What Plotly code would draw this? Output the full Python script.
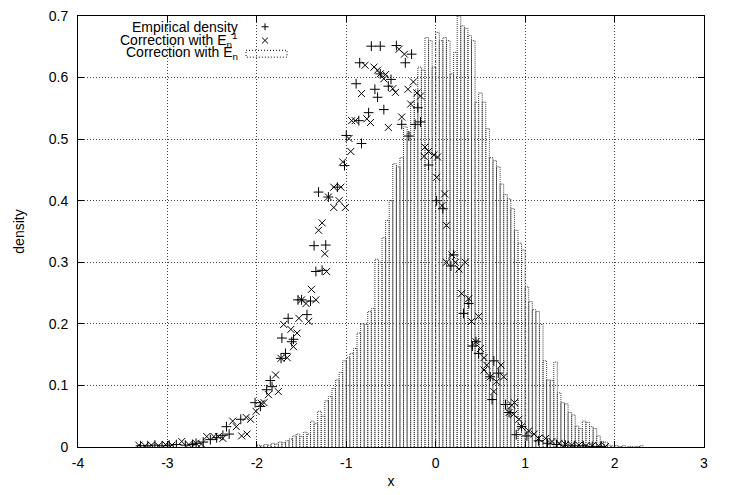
import plotly.graph_objects as go

# ---------------- data ----------------
emp_x = [-3.30, -3.22, -3.14, -3.06, -2.98, -2.90, -2.80, -2.72, -2.68, -2.60, -2.52, -2.45, -2.38,
         -2.34, -2.31, -2.18, -2.02, -1.96, -1.89, -1.85, -1.83, -1.73, -1.68, -1.72, -1.65, -1.61,
         -1.59, -1.54, -1.50, -1.44, -1.40, -1.34, -1.27, -1.36, -1.23, -1.31, -1.20, -1.10, -1.02,
         -1.00, -0.89, -0.85, -0.83, -0.86, -0.75, -0.72, -0.62, -0.68, -0.65, -0.62, -0.58, -0.53,
         -0.50, -0.44, -0.38, -0.34, -0.27, -0.30, -0.23, -0.20, -0.17, -0.08, 0.01, 0.08, 0.17,
         0.20, 0.31, 0.37, 0.41, 0.45, 0.48, 0.61, 0.63, 0.70, 0.65, 0.78, 0.82, 0.96, 0.90, 1.02,
         1.15, 1.25, 1.35, 1.45, 1.55, 1.65, 1.75, 1.85]
emp_y = [0.002, 0.002, 0.003, 0.002, 0.003, 0.004, 0.003, 0.004, 0.006, 0.008, 0.012, 0.015, 0.019,
         0.033, 0.021, 0.045, 0.072, 0.066, 0.093, 0.108, 0.098, 0.144, 0.152, 0.177, 0.209, 0.171,
         0.175, 0.239, 0.239, 0.215, 0.237, 0.285, 0.287, 0.327, 0.328, 0.414, 0.406, 0.422, 0.457,
         0.506, 0.590, 0.624, 0.493, 0.530, 0.543, 0.651, 0.651, 0.581, 0.568, 0.606, 0.548, 0.586,
         0.597, 0.652, 0.524, 0.624, 0.638, 0.505, 0.524, 0.551, 0.528, 0.458, 0.400, 0.387, 0.294,
         0.312, 0.217, 0.233, 0.164, 0.171, 0.152, 0.114, 0.077, 0.120, 0.140, 0.069, 0.056, 0.033,
         0.020, 0.018, 0.010, 0.006, 0.004, 0.003, 0.002, 0.002, 0.001, 0.001]

cor_x = [-3.32, -3.25, -3.18, -3.10, -3.02, -2.95, -2.84, -2.76, -2.68, -2.62, -2.56, -2.48, -2.43,
         -2.38, -2.27, -2.23, -2.17, -2.11, -2.12, -2.07, -2.01, -1.95, -1.92, -1.87, -1.79, -1.76,
         -1.73, -1.66, -1.59, -1.70, -1.62, -1.55, -1.53, -1.50, -1.45, -1.42, -1.39, -1.34, -1.22,
         -1.24, -1.31, -1.27, -1.14, -1.01, -1.14, -1.06, -1.20, -1.08, -1.04, -0.97, -0.95, -0.94,
         -0.90, -0.83, -0.79, -0.77, -0.73, -0.69, -0.65, -0.62, -0.58, -0.56, -0.53, -0.48, -0.45,
         -0.41, -0.35, -0.38, -0.31, -0.28, -0.25, -0.21, -0.17, -0.13, -0.12, -0.08, -0.02, 0.02,
         0.01, 0.07, 0.10, 0.12, 0.12, 0.18, 0.22, 0.26, 0.33, 0.29, 0.37, 0.40, 0.48, 0.45, 0.50,
         0.54, 0.57, 0.54, 0.73, 0.61, 0.76, 0.68, 0.65, 0.88, 0.85, 0.82, 0.87, 0.93, 0.96, 1.04,
         1.10, 1.15, 1.23, 1.30, 1.38, 1.45, 1.52, 1.60, 1.68, 1.75, 1.82, 1.90]
cor_y = [0.003, 0.002, 0.003, 0.002, 0.004, 0.003, 0.009, 0.004, 0.006, 0.005, 0.017, 0.017, 0.017,
         0.014, 0.042, 0.033, 0.018, 0.021, 0.048, 0.045, 0.058, 0.071, 0.072, 0.085, 0.117, 0.090,
         0.144, 0.145, 0.163, 0.199, 0.191, 0.185, 0.209, 0.239, 0.233, 0.204, 0.256, 0.239, 0.285,
         0.314, 0.352, 0.364, 0.389, 0.389, 0.422, 0.422, 0.406, 0.400, 0.463, 0.501, 0.480, 0.530,
         0.530, 0.574, 0.620, 0.533, 0.527, 0.617, 0.612, 0.606, 0.598, 0.605, 0.519, 0.582, 0.576,
         0.646, 0.638, 0.536, 0.581, 0.557, 0.593, 0.575, 0.570, 0.472, 0.487, 0.480, 0.474, 0.471,
         0.438, 0.392, 0.411, 0.360, 0.300, 0.312, 0.300, 0.289, 0.300, 0.249, 0.241, 0.204, 0.212,
         0.171, 0.160, 0.145, 0.133, 0.125, 0.133, 0.114, 0.114, 0.106, 0.090, 0.072, 0.068, 0.056,
         0.053, 0.045, 0.033, 0.026, 0.021, 0.014, 0.014, 0.009, 0.006, 0.004, 0.003, 0.003, 0.002,
         0.002, 0.002, 0.001]

hist_x = [-1.98, -1.94, -1.90, -1.86, -1.82, -1.78, -1.74, -1.70, -1.66, -1.62, -1.58, -1.54, -1.50,
          -1.46, -1.42, -1.38, -1.34, -1.30, -1.26, -1.22, -1.18, -1.14, -1.10, -1.06, -1.02, -0.98,
          -0.94, -0.90, -0.86, -0.82, -0.78, -0.74, -0.70, -0.66, -0.62, -0.58, -0.54, -0.50, -0.46,
          -0.42, -0.38, -0.34, -0.30, -0.26, -0.22, -0.18, -0.14, -0.10, -0.06, -0.02, 0.02, 0.06,
          0.10, 0.14, 0.18, 0.22, 0.26, 0.30, 0.34, 0.38, 0.42, 0.46, 0.50, 0.54, 0.58, 0.62, 0.66,
          0.70, 0.74, 0.78, 0.82, 0.86, 0.90, 0.94, 0.98, 1.02, 1.06, 1.10, 1.14, 1.18, 1.22, 1.26,
          1.30, 1.34, 1.38, 1.42, 1.46, 1.50, 1.54, 1.58, 1.62, 1.66, 1.70, 1.74, 1.78, 1.82, 1.86,
          1.90, 1.94, 1.98, 2.02, 2.06, 2.10, 2.14, 2.18, 2.22, 2.26, 2.30]
hist_y = [0.003, 0.002, 0.004, 0.003, 0.006, 0.005, 0.008, 0.007, 0.010, 0.013, 0.018, 0.021, 0.017,
          0.024, 0.021, 0.042, 0.038, 0.058, 0.050, 0.075, 0.082, 0.095, 0.109, 0.121, 0.140, 0.145,
          0.152, 0.160, 0.185, 0.200, 0.199, 0.220, 0.225, 0.305, 0.300, 0.340, 0.368, 0.400, 0.460,
          0.455, 0.470, 0.520, 0.510, 0.560, 0.580, 0.617, 0.612, 0.665, 0.660, 0.617, 0.673, 0.660,
          0.665, 0.660, 0.606, 0.641, 0.700, 0.684, 0.680, 0.668, 0.660, 0.560, 0.575, 0.560, 0.517,
          0.470, 0.465, 0.455, 0.427, 0.410, 0.403, 0.387, 0.352, 0.331, 0.320, 0.260, 0.236, 0.223,
          0.220, 0.199, 0.140, 0.109, 0.108, 0.138, 0.088, 0.072, 0.070, 0.056, 0.052, 0.034, 0.030,
          0.042, 0.040, 0.033, 0.030, 0.018, 0.009, 0.008, 0.003, 0.002, 0.002, 0.001, 0.002, 0.000,
          0.001, 0.000, 0.001, 0.002]
hist_width = 0.04

x_ticks = [-4, -3, -2, -1, 0, 1, 2, 3]
y_ticks = [0, 0.1, 0.2, 0.3, 0.4, 0.5, 0.6, 0.7]
y_tick_text = ["0", "0.1", "0.2", "0.3", "0.4", "0.5", "0.6", "0.7"]

# ---------------- figure ----------------
W, H = 733, 495
ML, MR, MT, MB = 78, 29, 8, 47
FONT = "Liberation Sans, Arial, Helvetica, sans-serif"
FS = 14
GRID_DOT = "1px,2px"
BOX_DOT = "1px,1px"

# histogram boxes as dotted outlines
bx, by = [], []
for c, h in zip(hist_x, hist_y):
    x0, x1 = c - hist_width / 2, c + hist_width / 2
    bx += [x0, x0, x1, x1, None]
    by += [0, h, h, 0, None]

fig = go.Figure()
fig.add_trace(go.Scatter(x=bx, y=by, mode="lines",
                         line=dict(color="#3a3a3a", width=1, dash=BOX_DOT),
                         showlegend=False, hoverinfo="skip"))
fig.add_trace(go.Scatter(x=emp_x, y=emp_y, mode="markers",
                         marker=dict(symbol="cross-thin", size=7, color="black",
                                     line=dict(color="black", width=1)),
                         showlegend=False))
fig.add_trace(go.Scatter(x=cor_x, y=cor_y, mode="markers",
                         marker=dict(symbol="x-thin", size=7, color="black",
                                     line=dict(color="black", width=1)),
                         showlegend=False))

pw, ph = W - ML - MR, H - MT - MB


def px(xp):
    return (xp - ML) / pw


def py(yp):
    return (H - MB - yp) / ph


# legend (gnuplot style: text right-aligned, sample on the right)
leg_text = ["Empirical density",
            "Correction with E<sub>n</sub><sup>1</sup>",
            "Correction with E<sub>n</sub>"]
leg_y = [19, 32, 46]
for t, yy in zip(leg_text, leg_y):
    fig.add_annotation(x=px(240), y=py(yy), xref="paper", yref="paper",
                       text=t, showarrow=False, xanchor="right", yanchor="middle",
                       font=dict(family=FONT, size=FS, color="black"))

shapes = []
# + sample
shapes.append(dict(type="line", xref="paper", yref="paper", x0=px(261.5), x1=px(268.5), y0=py(19), y1=py(19),
                   line=dict(color="black", width=1)))
shapes.append(dict(type="line", xref="paper", yref="paper", x0=px(265), x1=px(265), y0=py(15.5), y1=py(22.5),
                   line=dict(color="black", width=1)))
# x sample
shapes.append(dict(type="line", xref="paper", yref="paper", x0=px(262), x1=px(268), y0=py(30), y1=py(36),
                   line=dict(color="black", width=1)))
shapes.append(dict(type="line", xref="paper", yref="paper", x0=px(262), x1=px(268), y0=py(36), y1=py(30),
                   line=dict(color="black", width=1)))
# dotted box sample
shapes.append(dict(type="rect", xref="paper", yref="paper", x0=px(246), x1=px(287), y0=py(43), y1=py(50),
                   line=dict(color="black", width=1, dash=GRID_DOT)))

fig.update_layout(
    width=W, height=H,
    margin=dict(l=ML, r=MR, t=MT, b=MB, pad=0),
    paper_bgcolor="white", plot_bgcolor="white",
    font=dict(family=FONT, size=FS, color="black"),
    shapes=shapes,
    showlegend=False,
)
fig.update_xaxes(range=[-4, 3], tickvals=x_ticks, ticktext=[str(v) for v in x_ticks],
                 ticks="inside", ticklen=6, tickcolor="black", mirror="allticks",
                 showline=True, linecolor="black", linewidth=1,
                 showgrid=True, gridcolor="#444", griddash=GRID_DOT, gridwidth=1,
                 zeroline=False, tickfont=dict(family=FONT, size=FS), ticklabelstandoff=3,
                 title=dict(text="x", font=dict(family=FONT, size=FS), standoff=6))
fig.update_yaxes(range=[0, 0.7], tickvals=y_ticks, ticktext=y_tick_text,
                 ticks="inside", ticklen=6, tickcolor="black", mirror="allticks",
                 showline=True, linecolor="black", linewidth=1,
                 showgrid=True, gridcolor="#444", griddash=GRID_DOT, gridwidth=1,
                 zeroline=False, tickfont=dict(family=FONT, size=FS), ticklabelstandoff=6,
                 title=dict(text="density", font=dict(family=FONT, size=FS), standoff=20))

fig.write_html("out.html", config={"displayModeBar": False},
               post_script="document.body.style.margin='0';document.body.style.padding='0';")
